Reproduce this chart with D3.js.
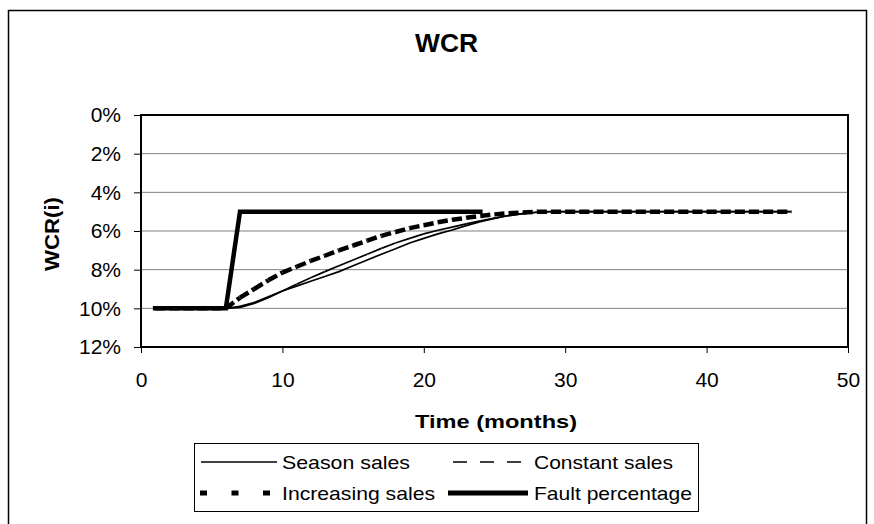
<!DOCTYPE html>
<html>
<head>
<meta charset="utf-8">
<script src="https://cdn.jsdelivr.net/npm/d3@7"></script>
<style>
  html, body { margin: 0; padding: 0; background: #fff; }
  svg { display: block; font-family: "Liberation Sans", Arial, sans-serif; }
</style>
</head>
<body>
<svg id="chart" width="874" height="524"></svg>
<script>
// ---------- data ----------
const months = d3.range(1, 47); // 1..46
const seasonSales = [10,10,10,10,10,10,9.95,9.75,9.45,9.1,8.85,8.6,8.35,8.1,7.8,7.5,7.2,6.92,6.62,6.38,6.15,5.95,5.72,5.52,5.35,5.2,5.1,5.03,5,5,5,5,5,5,5,5,5,5,5,5,5,5,5,5,5,5];
const constantSales = [10,10,10,10,10,10,9.9,9.7,9.4,9.1,8.75,8.42,8.1,7.8,7.5,7.2,6.9,6.62,6.38,6.15,5.96,5.8,5.63,5.48,5.33,5.2,5.1,5.03,5,5,5,5,5,5,5,5,5,5,5,5,5,5,5,5,5,5];
const increasingSales = [10,10,10,10,10,10,9.45,9.0,8.55,8.15,7.85,7.55,7.28,7.0,6.75,6.5,6.25,6.05,5.85,5.7,5.55,5.42,5.32,5.22,5.14,5.08,5.04,5.01,5,5,5,5,5,5,5,5,5,5,5,5,5,5,5,5,5,5];
const faultMonths = d3.range(1, 25); // 1..24
const faultPercentage = [10,10,10,10,10,10,5,5,5,5,5,5,5,5,5,5,5,5,5,5,5,5,5,5];
const xTicks = [0, 10, 20, 30, 40, 50];
const yTicks = [0, 2, 4, 6, 8, 10, 12];
const seriesNames = ["Season sales", "Constant sales", "Increasing sales", "Fault percentage"];

// ---------- layout ----------
const svg = d3.select("#chart");
const x = d3.scaleLinear().domain([0, 50]).range([141, 848]);
const y = d3.scaleLinear().domain([0, 12]).range([115, 347]);

// outer border
svg.append("rect").attr("x", 8.5).attr("y", 10.5).attr("width", 858).attr("height", 530)
  .attr("fill", "#fff").attr("stroke", "#000").attr("stroke-width", 1.5);

// title
svg.append("text").attr("x", 446.5).attr("y", 52).attr("text-anchor", "middle")
  .attr("font-size", 25).attr("font-weight", "bold")
  .attr("textLength", 63).attr("lengthAdjust", "spacingAndGlyphs").text("WCR");

// gridlines
svg.append("g").selectAll("line").data(yTicks.filter(d => d > 0 && d < 12)).join("line")
  .attr("x1", x(0)).attr("x2", x(50)).attr("y1", d => y(d)).attr("y2", d => y(d))
  .attr("stroke", "#808080").attr("stroke-width", 1);

// axes
const yAxis = d3.axisLeft(y).tickValues(yTicks).tickFormat(d => d + "%").tickSize(7).tickPadding(6);
const gy = svg.append("g").attr("transform", `translate(${x(0)},0)`).call(yAxis);
gy.select(".domain").remove();
gy.selectAll(".tick line").attr("stroke", "#000").attr("stroke-width", 1);
gy.selectAll(".tick text").attr("font-size", 21).attr("font-family", "Liberation Sans, Arial, sans-serif")
  .attr("fill", "#000").attr("x", -20).attr("dy", "0.33em");

const xAxis = d3.axisBottom(x).tickValues(xTicks).tickSize(6).tickPadding(19);
const gx = svg.append("g").attr("transform", `translate(0,${y(12)})`).call(xAxis);
gx.select(".domain").remove();
gx.selectAll(".tick line").attr("stroke", "#000").attr("stroke-width", 1);
gx.selectAll(".tick text").attr("font-size", 21).attr("font-family", "Liberation Sans, Arial, sans-serif")
  .attr("fill", "#000");

// plot frame
svg.append("rect").attr("x", x(0)).attr("y", y(0)).attr("width", x(50) - x(0)).attr("height", y(12) - y(0))
  .attr("fill", "none").attr("stroke", "#000").attr("stroke-width", 2);

// axis titles
svg.append("text").attr("x", 496).attr("y", 428).attr("text-anchor", "middle")
  .attr("font-size", 19).attr("font-weight", "bold")
  .attr("textLength", 162).attr("lengthAdjust", "spacingAndGlyphs").text("Time (months)");
svg.append("text").attr("transform", "translate(59,234) rotate(-90)").attr("text-anchor", "middle")
  .attr("font-size", 20).attr("font-weight", "bold")
  .attr("textLength", 74).attr("lengthAdjust", "spacingAndGlyphs").text("WCR(i)");

// ---------- series ----------
const line = d3.line().x(d => x(d[0])).y(d => y(d[1]));
const zipM = (ms, vs) => ms.map((m, i) => [m, vs[i]]);
const plot = svg.append("g");

function segmented(points, dash, width) {
  const segs = d3.range(points.length - 1).map(i => [points[i], points[i + 1]]);
  plot.append("g").selectAll("path").data(segs).join("path")
    .attr("d", line).attr("fill", "none").attr("stroke", "#000")
    .attr("stroke-width", width).attr("stroke-dasharray", dash);
}

plot.append("path").attr("d", line(zipM(months, seasonSales)))
  .attr("fill", "none").attr("stroke", "#000").attr("stroke-width", 1.7).attr("stroke-linejoin", "round");
segmented(zipM(months, constantSales), "16,8", 1.7);
segmented(zipM(months, increasingSales), "10,4", 4.5);
plot.append("path").attr("d", line(zipM(faultMonths, faultPercentage)))
  .attr("fill", "none").attr("stroke", "#000").attr("stroke-width", 4.5)
  .attr("stroke-linejoin", "miter").attr("stroke-linecap", "square");

// ---------- legend ----------
const lg = svg.append("g");
lg.append("rect").attr("x", 194.5).attr("y", 443.5).attr("width", 504).attr("height", 68)
  .attr("fill", "#fff").attr("stroke", "#000").attr("stroke-width", 1);
const legendItems = [
  { name: seriesNames[0], x1: 201, x2: 277, ly: 462, tx: 282, tw: 128, w: 1.7, dash: null },
  { name: seriesNames[1], x1: 453, x2: 528, ly: 462, tx: 534, tw: 139, w: 1.7, dash: "14,13" },
  { name: seriesNames[2], x1: 200, x2: 270, ly: 493, tx: 282, tw: 153, w: 5, dash: "7,24.5" },
  { name: seriesNames[3], x1: 448, x2: 528, ly: 493, tx: 534, tw: 158, w: 5, dash: null }
];
legendItems.forEach(it => {
  lg.append("line").attr("x1", it.x1).attr("x2", it.x2).attr("y1", it.ly).attr("y2", it.ly)
    .attr("stroke", "#000").attr("stroke-width", it.w).attr("stroke-dasharray", it.dash);
  lg.append("text").attr("x", it.tx).attr("y", it.ly + 7).attr("font-size", 19)
    .attr("textLength", it.tw).attr("lengthAdjust", "spacingAndGlyphs").text(it.name);
});
</script>
</body>
</html>
